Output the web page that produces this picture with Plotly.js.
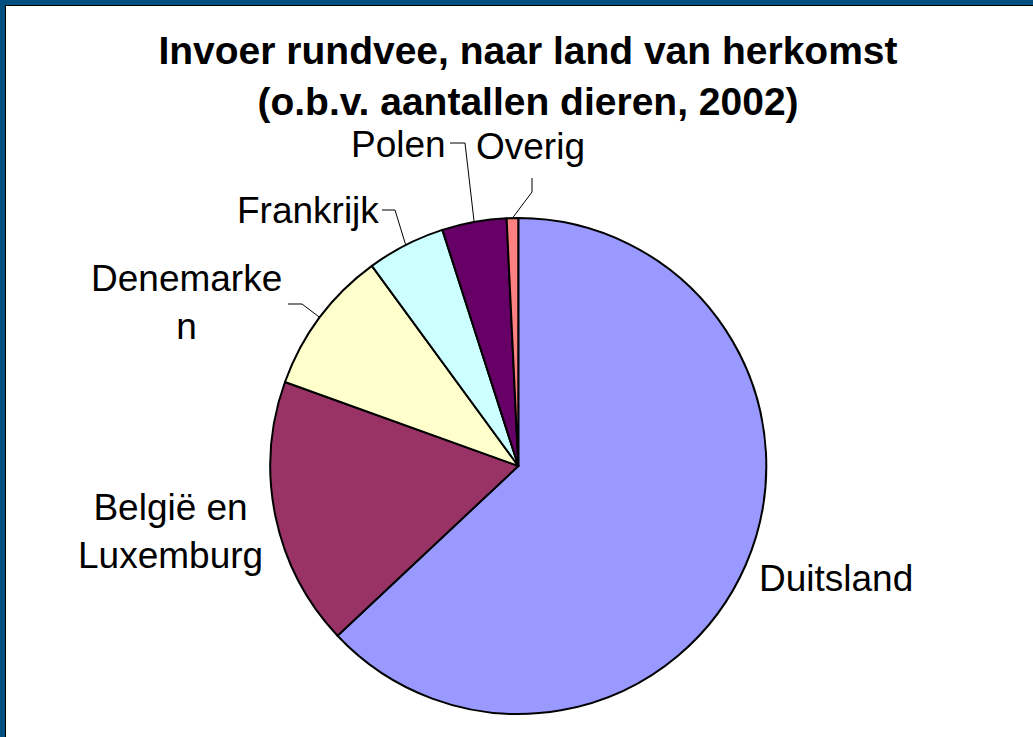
<!DOCTYPE html>
<html>
<head>
<meta charset="utf-8">
<script src="https://cdn.plot.ly/plotly-3.0.1.min.js"></script>
<style>
  html, body { margin: 0; padding: 0; background: #ffffff; }
  #wrap { position: relative; width: 1033px; height: 737px; overflow: hidden; }
  #chart { position: absolute; left: 0; top: 0; width: 1033px; height: 737px; }
  .bd { position: absolute; pointer-events: none; }
</style>
</head>
<body>
<div id="wrap">
  <div id="chart"></div>
  <div class="bd" style="left:0;top:0;width:1033px;height:5px;background:#00507f;"></div>
  <div class="bd" style="left:0;top:0;width:5px;height:737px;background:#00507f;"></div>
  <div class="bd" style="left:5px;top:5px;width:1028px;height:1px;background:#000;"></div>
  <div class="bd" style="left:5px;top:5px;width:1px;height:732px;background:#000;"></div>
</div>
<script>
// ---- data ----
const countries = ["Duitsland", "België en Luxemburg", "Denemarken", "Frankrijk", "Polen", "Overig"];
const shares = [63.0, 17.5, 9.45, 5.1, 4.2, 0.75];
const displayLabels = ["Duitsland", "België en<br>Luxemburg", "Denemarke<br>n", "Frankrijk", "Polen", "Overig"];
const sliceColors = ["#9999ff", "#993366", "#ffffcc", "#ccffff", "#660066", "#ff8080"];

// ---- layout geometry (pixels) ----
const W = 1033, H = 737;
const CX = 518.3, CY = 466, R = 248;
const FONT = "Liberation Sans, Arial, Helvetica, sans-serif";

// label placements (pixel centres) and leader-line elbows (null = no leader)
const labelPos = [
  [836, 578], [170, 531], [186, 302], [308, 210], [398, 144], [530, 147]
];
const leaderStart = [null, null, [288, 304], [382, 210], [450, 143], [532, 178]];
const leaderElbow = [null, null, [302, 304], [395, 210], [465, 143], [532, 192]];

const px = x => x / W;
const py = y => 1 - y / H;

const total = shares.reduce((a, b) => a + b, 0);
let cum = 0;
const midAngles = shares.map(v => { const m = (cum + v / 2) / total * 360; cum += v; return m; });

const annotations = displayLabels.map((t, i) => ({
  text: t, x: px(labelPos[i][0]), y: py(labelPos[i][1]), xref: "paper", yref: "paper",
  xanchor: "center", yanchor: "middle", showarrow: false, align: "center",
  font: { family: FONT, size: 37, color: "#000000" }
}));

const shapes = [];
midAngles.forEach((a, i) => {
  if (!leaderStart[i]) return;
  const rad = a * Math.PI / 180;
  const ex = CX + R * Math.sin(rad), ey = CY - R * Math.cos(rad);
  const s = leaderStart[i], e = leaderElbow[i];
  shapes.push({
    type: "path", xref: "paper", yref: "paper",
    path: `M ${px(s[0])} ${py(s[1])} L ${px(e[0])} ${py(e[1])} L ${px(ex)} ${py(ey)}`,
    line: { color: "#000000", width: 1 }
  });
});

const trace = {
  type: "pie",
  labels: countries,
  values: shares,
  sort: false,
  direction: "clockwise",
  rotation: 0,
  textinfo: "none",
  hoverinfo: "label+percent",
  marker: { colors: sliceColors, line: { color: "#000000", width: 2 } },
  domain: { x: [px(CX - R), px(CX + R)], y: [py(CY + R), py(CY - R)] },
  showlegend: false
};

const layout = {
  width: W, height: H,
  margin: { l: 0, r: 0, t: 0, b: 0 },
  paper_bgcolor: "#ffffff",
  plot_bgcolor: "#ffffff",
  showlegend: false,
  title: {
    text: "<b>Invoer rundvee, naar land van herkomst<br>(o.b.v. aantallen dieren, 2002)</b>",
    font: { family: FONT, size: 39, color: "#000000" },
    x: 528 / W, xanchor: "center", xref: "paper",
    y: 1 - 64 / H, yanchor: "middle", yref: "container"
  },
  annotations: annotations,
  shapes: shapes
};

Plotly.newPlot("chart", [trace], layout, { displayModeBar: false, staticPlot: true });
</script>
</body>
</html>
